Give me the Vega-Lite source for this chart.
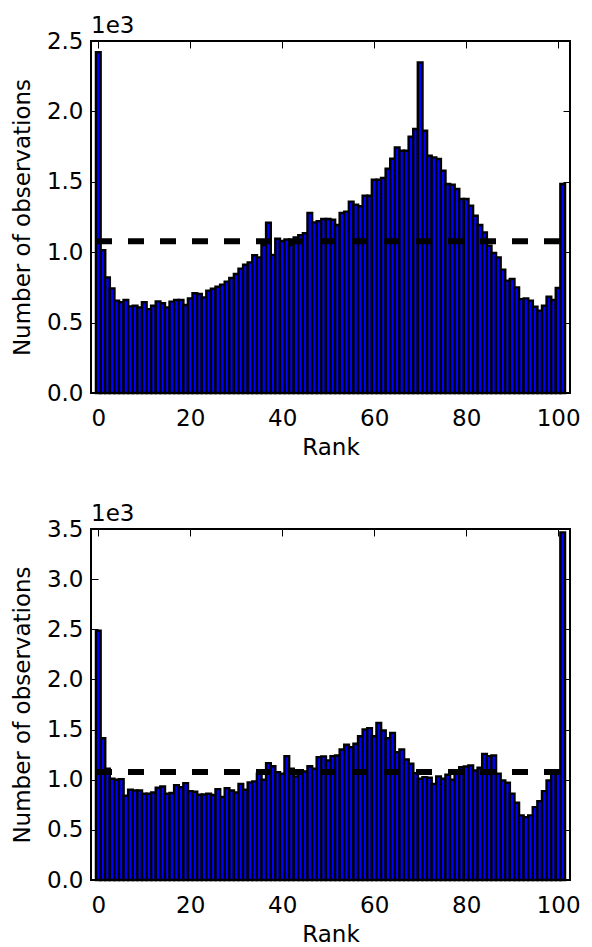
{
  "$schema": "https://vega.github.io/schema/vega-lite/v6.json",
  "padding": {"left": 10, "top": 14, "right": 5, "bottom": 2},
  "background": "white",
  "datasets": {
    "top": [
      {"rank":0,"count":2420},{"rank":1,"count":1015},{"rank":2,"count":820},{"rank":3,"count":743},{"rank":4,"count":656},{"rank":5,"count":644},{"rank":6,"count":660},{"rank":7,"count":615},{"rank":8,"count":620},{"rank":9,"count":608},
      {"rank":10,"count":644},{"rank":11,"count":596},{"rank":12,"count":620},{"rank":13,"count":651},{"rank":14,"count":637},{"rank":15,"count":608},{"rank":16,"count":649},{"rank":17,"count":660},{"rank":18,"count":660},{"rank":19,"count":625},
      {"rank":20,"count":672},{"rank":21,"count":708},{"rank":22,"count":703},{"rank":23,"count":679},{"rank":24,"count":727},{"rank":25,"count":740},{"rank":26,"count":755},{"rank":27,"count":770},{"rank":28,"count":791},{"rank":29,"count":817},
      {"rank":30,"count":845},{"rank":31,"count":883},{"rank":32,"count":911},{"rank":33,"count":928},{"rank":34,"count":978},{"rank":35,"count":963},{"rank":36,"count":1051},{"rank":37,"count":1210},{"rank":38,"count":980},{"rank":39,"count":1095},
      {"rank":40,"count":1080},{"rank":41,"count":1090},{"rank":42,"count":1050},{"rank":43,"count":1105},{"rank":44,"count":1120},{"rank":45,"count":1135},{"rank":46,"count":1278},{"rank":47,"count":1212},{"rank":48,"count":1220},{"rank":49,"count":1236},
      {"rank":50,"count":1236},{"rank":51,"count":1231},{"rank":52,"count":1193},{"rank":53,"count":1278},{"rank":54,"count":1288},{"rank":55,"count":1359},{"rank":56,"count":1337},{"rank":57,"count":1326},{"rank":58,"count":1401},{"rank":59,"count":1401},
      {"rank":60,"count":1515},{"rank":61,"count":1515},{"rank":62,"count":1527},{"rank":63,"count":1593},{"rank":64,"count":1664},{"rank":65,"count":1744},{"rank":66,"count":1721},{"rank":67,"count":1721},{"rank":68,"count":1820},{"rank":69,"count":1875},
      {"rank":70,"count":2348},{"rank":71,"count":1863},{"rank":72,"count":1685},{"rank":73,"count":1673},{"rank":74,"count":1662},{"rank":75,"count":1579},{"rank":76,"count":1484},{"rank":77,"count":1479},{"rank":78,"count":1449},{"rank":79,"count":1378},
      {"rank":80,"count":1378},{"rank":81,"count":1330},{"rank":82,"count":1259},{"rank":83,"count":1193},{"rank":84,"count":1141},{"rank":85,"count":1046},{"rank":86,"count":994},{"rank":87,"count":963},{"rank":88,"count":876},{"rank":89,"count":798},
      {"rank":90,"count":810},{"rank":91,"count":750},{"rank":92,"count":667},{"rank":93,"count":672},{"rank":94,"count":656},{"rank":95,"count":613},{"rank":96,"count":585},{"rank":97,"count":620},{"rank":98,"count":684},{"rank":99,"count":660},
      {"rank":100,"count":746},{"rank":101,"count":1484}
    ],
    "bottom": [
      {"rank":0,"count":2487},{"rank":1,"count":1414},{"rank":2,"count":1109},{"rank":3,"count":1009},{"rank":4,"count":999},{"rank":5,"count":1006},{"rank":6,"count":840},{"rank":7,"count":900},{"rank":8,"count":893},{"rank":9,"count":893},
      {"rank":10,"count":860},{"rank":11,"count":860},{"rank":12,"count":873},{"rank":13,"count":920},{"rank":14,"count":933},{"rank":15,"count":860},{"rank":16,"count":867},{"rank":17,"count":946},{"rank":18,"count":926},{"rank":19,"count":966},
      {"rank":20,"count":886},{"rank":21,"count":880},{"rank":22,"count":850},{"rank":23,"count":853},{"rank":24,"count":860},{"rank":25,"count":847},{"rank":26,"count":906},{"rank":27,"count":827},{"rank":28,"count":916},{"rank":29,"count":893},
      {"rank":30,"count":873},{"rank":31,"count":959},{"rank":32,"count":900},{"rank":33,"count":973},{"rank":34,"count":983},{"rank":35,"count":1059},{"rank":36,"count":999},{"rank":37,"count":1165},{"rank":38,"count":1135},{"rank":39,"count":1076},
      {"rank":40,"count":1059},{"rank":41,"count":1235},{"rank":42,"count":1109},{"rank":43,"count":1033},{"rank":44,"count":1082},{"rank":45,"count":1082},{"rank":46,"count":1135},{"rank":47,"count":1109},{"rank":48,"count":1225},{"rank":49,"count":1232},
      {"rank":50,"count":1192},{"rank":51,"count":1235},{"rank":52,"count":1242},{"rank":53,"count":1301},{"rank":54,"count":1348},{"rank":55,"count":1325},{"rank":56,"count":1358},{"rank":57,"count":1434},{"rank":58,"count":1501},{"rank":59,"count":1514},
      {"rank":60,"count":1434},{"rank":61,"count":1567},{"rank":62,"count":1491},{"rank":63,"count":1414},{"rank":64,"count":1467},{"rank":65,"count":1275},{"rank":66,"count":1301},{"rank":67,"count":1202},{"rank":68,"count":1159},{"rank":69,"count":1066},
      {"rank":70,"count":1009},{"rank":71,"count":1026},{"rank":72,"count":1019},{"rank":73,"count":959},{"rank":74,"count":1033},{"rank":75,"count":1009},{"rank":76,"count":1049},{"rank":77,"count":999},{"rank":78,"count":1086},{"rank":79,"count":1125},
      {"rank":80,"count":1132},{"rank":81,"count":1142},{"rank":82,"count":1092},{"rank":83,"count":1119},{"rank":84,"count":1258},{"rank":85,"count":1235},{"rank":86,"count":1242},{"rank":87,"count":1059},{"rank":88,"count":993},{"rank":89,"count":969},
      {"rank":90,"count":860},{"rank":91,"count":770},{"rank":92,"count":644},{"rank":93,"count":627},{"rank":94,"count":644},{"rank":95,"count":727},{"rank":96,"count":787},{"rank":97,"count":886},{"rank":98,"count":993},{"rank":99,"count":1076},
      {"rank":100,"count":1076},{"rank":101,"count":3466}
    ],
    "expected": [{"expected": 1078}]
  },
  "vconcat": [
    {
      "width": 479,
      "height": 352,
      "title": {"text": "1e3", "anchor": "start", "frame": "group", "baseline": "alphabetic", "offset": -26},
      "layer": [
        {
          "data": {"name": "top"},
          "mark": {"type": "bar", "width": 4.7, "fill": "#0000ff", "stroke": "#000000", "strokeWidth": 2.4},
          "encoding": {
            "x": {"field": "rank", "type": "quantitative", "scale": {"domain": [-0.5, 101.5], "nice": false, "zero": false},
                  "axis": {"orient": "bottom", "title": "Rank", "values": [0,20,40,60,80,100]}},
            "y": {"field": "count", "type": "quantitative", "scale": {"domain": [0, 2500], "nice": false},
                  "axis": {"orient": "left", "title": "Number of observations", "values": [0,500,1000,1500,2000,2500], "labelExpr": "format(datum.value/1000, '.1f')"}}
          }
        },
        {
          "data": {"name": "expected"},
          "mark": {"type": "rule", "strokeDash": [16, 16], "strokeWidth": 6, "color": "#000000"},
          "encoding": {
            "x": {"datum": -0.5, "type": "quantitative", "axis": {"orient": "top", "title": null, "labels": false, "minExtent": 0, "maxExtent": 0, "values": [0,20,40,60,80,100]}},
            "x2": {"datum": 101.5},
            "y": {"field": "expected", "type": "quantitative", "axis": {"orient": "right", "title": null, "labels": false, "minExtent": 0, "maxExtent": 0, "values": [0,500,1000,1500,2000,2500]}}
          }
        }
      ],
      "resolve": {"axis": {"x": "independent", "y": "independent"}}
    },
    {
      "width": 479,
      "height": 351,
      "title": {"text": "1e3", "anchor": "start", "frame": "group", "baseline": "alphabetic", "offset": -26},
      "layer": [
        {
          "data": {"name": "bottom"},
          "mark": {"type": "bar", "width": 4.7, "fill": "#0000ff", "stroke": "#000000", "strokeWidth": 2.4},
          "encoding": {
            "x": {"field": "rank", "type": "quantitative", "scale": {"domain": [-0.5, 101.5], "nice": false, "zero": false},
                  "axis": {"orient": "bottom", "title": "Rank", "values": [0,20,40,60,80,100]}},
            "y": {"field": "count", "type": "quantitative", "scale": {"domain": [0, 3500], "nice": false},
                  "axis": {"orient": "left", "title": "Number of observations", "values": [0,500,1000,1500,2000,2500,3000,3500], "labelExpr": "format(datum.value/1000, '.1f')"}}
          }
        },
        {
          "data": {"name": "expected"},
          "mark": {"type": "rule", "strokeDash": [16, 16], "strokeWidth": 6, "color": "#000000"},
          "encoding": {
            "x": {"datum": -0.5, "type": "quantitative", "axis": {"orient": "top", "title": null, "labels": false, "minExtent": 0, "maxExtent": 0, "values": [0,20,40,60,80,100]}},
            "x2": {"datum": 101.5},
            "y": {"field": "expected", "type": "quantitative", "axis": {"orient": "right", "title": null, "labels": false, "minExtent": 0, "maxExtent": 0, "values": [0,500,1000,1500,2000,2500,3000,3500]}}
          }
        }
      ],
      "resolve": {"axis": {"x": "independent", "y": "independent"}}
    }
  ],
  "spacing": 42,
  "config": {
    "font": "DejaVu Sans",
    "view": {"stroke": "#000000", "strokeWidth": 2},
    "title": {"fontSize": 23, "fontWeight": "normal", "color": "#000000", "font": "DejaVu Sans"},
    "axis": {
      "grid": false,
      "domain": false,
      "ticks": true,
      "tickSize": -7,
      "tickColor": "#000000",
      "tickWidth": 1,
      "minExtent": 0,
      "labelFontSize": 23,
      "labelColor": "#000000",
      "labelFlush": false,
      "labelOverlap": false,
      "titleFontSize": 23,
      "titleFontWeight": "normal",
      "titleColor": "#000000"
    },
    "axisX": {"labelPadding": 21, "titlePadding": 6},
    "axisY": {"labelPadding": 15, "titlePadding": 12}
  }
}
